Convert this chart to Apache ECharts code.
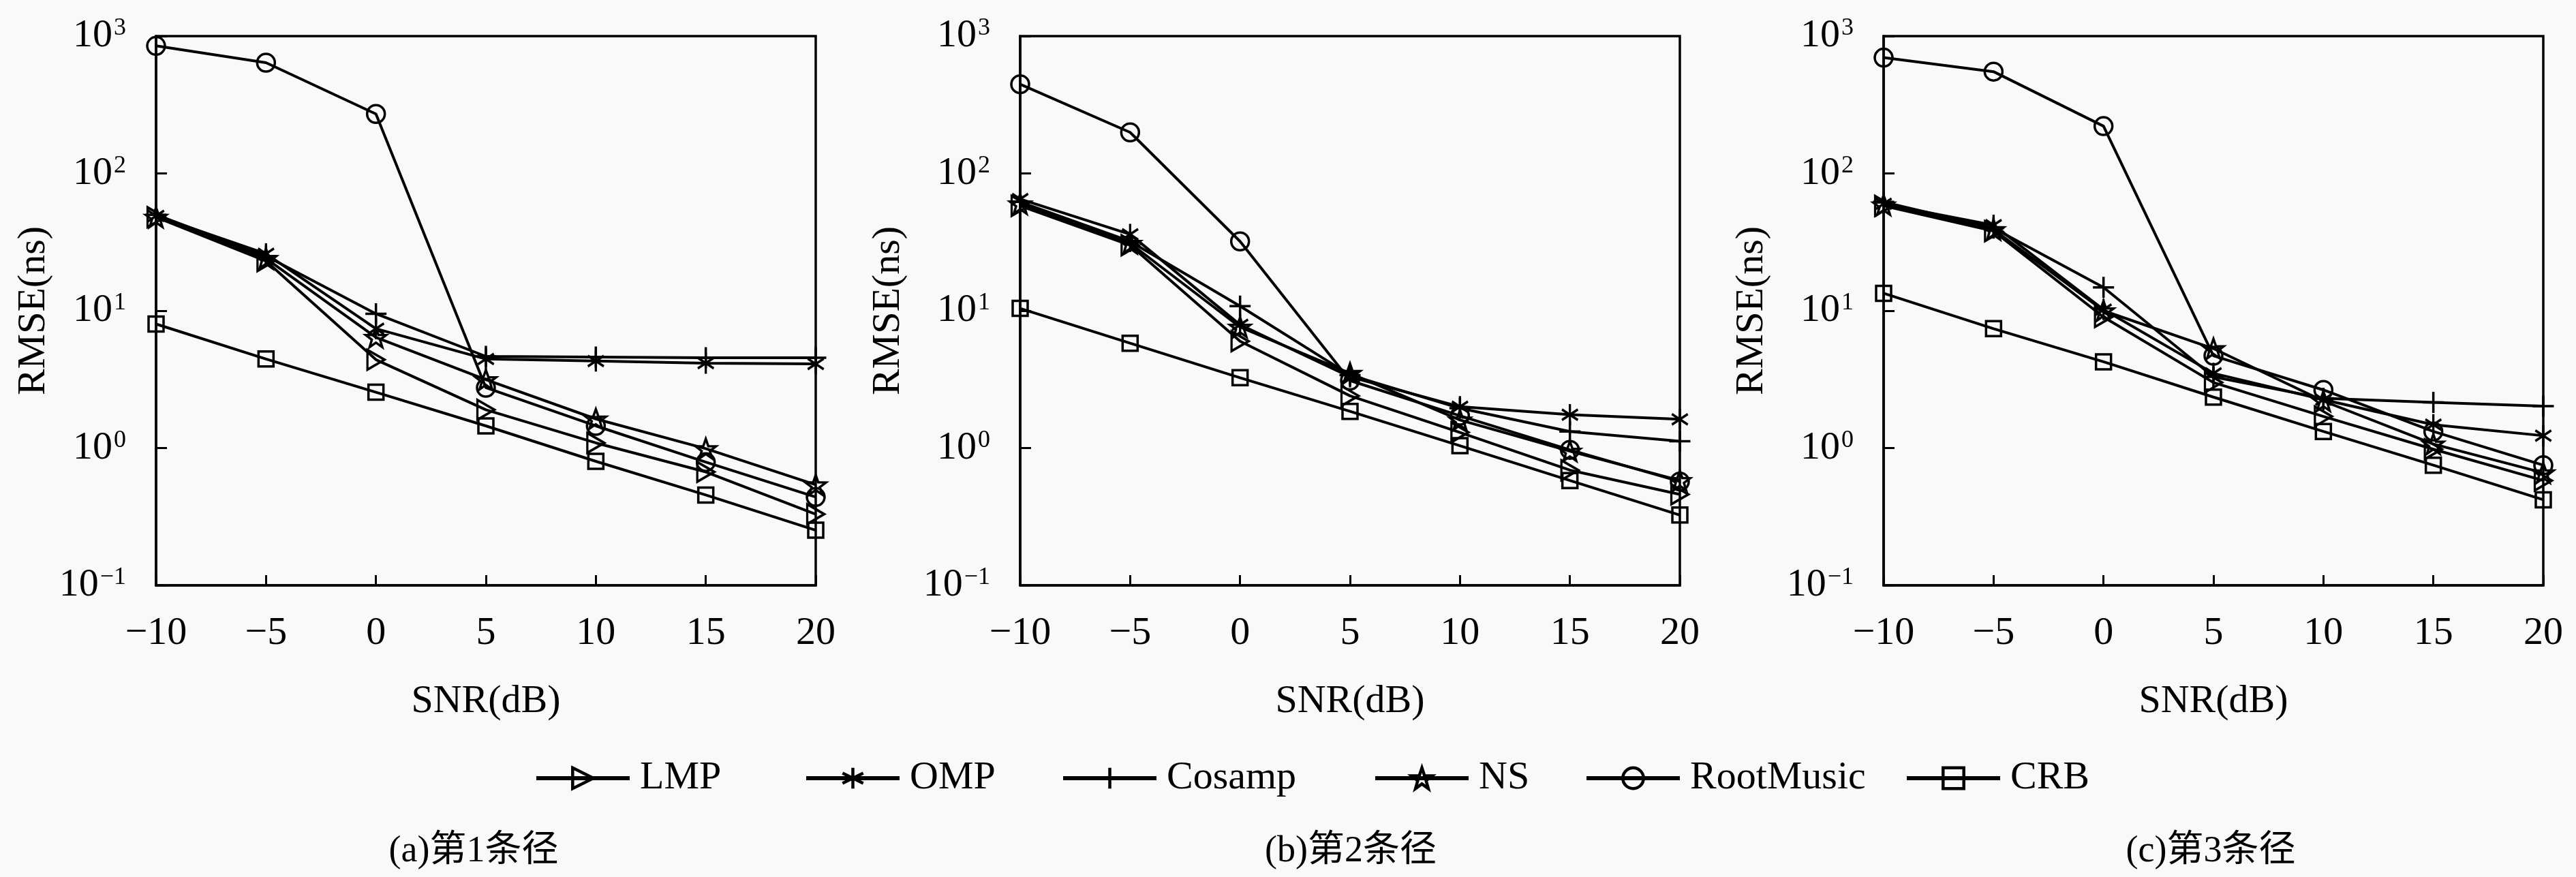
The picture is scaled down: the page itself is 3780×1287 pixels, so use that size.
<!DOCTYPE html>
<html><head><meta charset="utf-8">
<script src="https://cdn.jsdelivr.net/npm/echarts@6/dist/echarts.min.js"></script>
<style>html,body{margin:0;padding:0;background:#f9f9f9;}#c{width:3780px;height:1287px;}</style>
</head><body><div id="c"></div>
<script>
// ---------- data ----------
const snr = [-10, -5, 0, 5, 10, 15, 20];
const seriesNames = ['LMP', 'OMP', 'Cosamp', 'NS', 'RootMusic', 'CRB'];
const captions = ['(a)第1条径', '(b)第2条径', '(c)第3条径'];
const xTickLabels = ['−10', '−5', '0', '5', '10', '15', '20'];
const yTickExponents = [-1, 0, 1, 2, 3];

// panel (a)
const lmpA    = [48, 23, 4.4, 1.9, 1.09, 0.67, 0.33];
const ompA    = [49, 26, 7.4, 4.45, 4.3, 4.15, 4.1];
const cosampA = [50, 25, 9.5, 4.65, 4.6, 4.55, 4.55];
const nsA     = [48, 24, 6.4, 3.15, 1.63, 0.99, 0.54];
const rootA   = [849, 640, 271, 2.75, 1.45, 0.79, 0.44];
const crbA    = [8.0, 4.45, 2.55, 1.45, 0.80, 0.455, 0.252];
// panel (b)
const lmpB    = [58, 30, 6.0, 2.4, 1.3, 0.69, 0.46];
const ompB    = [65, 36, 7.9, 3.3, 2.0, 1.75, 1.62];
const cosampB = [62, 32, 10.8, 3.4, 1.95, 1.32, 1.12];
const nsB     = [60, 31, 7.6, 3.5, 1.6, 0.95, 0.58];
const rootB   = [446, 199, 32, 3.1, 1.72, 0.97, 0.57];
const crbB    = [10.4, 5.8, 3.25, 1.85, 1.04, 0.58, 0.325];
// panel (c)
const lmpC    = [58, 38, 9.0, 3.0, 1.7, 0.98, 0.58];
const ompC    = [60, 42, 10.2, 3.5, 2.25, 1.48, 1.23];
const cosampC = [62, 40, 14.8, 3.3, 2.3, 2.15, 2.02];
const nsC     = [59, 39, 10.0, 5.3, 2.2, 1.07, 0.66];
const rootC   = [697, 551, 221, 4.7, 2.65, 1.32, 0.75];
const crbC    = [13.4, 7.4, 4.25, 2.35, 1.32, 0.75, 0.42];

const panels = [
  [lmpA, ompA, cosampA, nsA, rootA, crbA],
  [lmpB, ompB, cosampB, nsB, rootB, crbB],
  [lmpC, ompC, cosampC, nsC, rootC, crbC]
];

// ---------- styles ----------
const FONT = "'Liberation Serif', 'Noto Sans CJK SC', serif";
const FS = 58;
const LW = 4;
const markerStyles = {
  LMP: { symbol: 'path://M0,0L10,5L0,10Z', size: [25, 29] },
  OMP: { symbol: 'path://M5,0L5,10M0.67,2.5L9.33,7.5M0.67,7.5L9.33,2.5', size: [27, 31] },
  Cosamp: { symbol: 'path://M5,0L5,10M0,5L10,5', size: [31, 31] },
  NS: { symbol: 'path://M5,0L6.176,3.382L9.755,3.455L6.902,5.618L7.939,9.045L5,7L2.061,9.045L3.098,5.618L0.245,3.455L3.824,3.382Z', size: [30, 30] },
  RootMusic: { symbol: 'circle', size: 26 },
  CRB: { symbol: 'rect', size: 22 }
};
const gridLefts = [229, 1497, 2764];
const gridWidth = 968;
const yNameGaps = [150, 164, 164];
const legendLefts = [779, 1175, 1552, 2010, 2320, 2790];
const captionX = [695, 1982, 3244];

const grids = [], xAxes = [], yAxes = [], series = [];
panels.forEach((pd, p) => {
  grids.push({ left: gridLefts[p], top: 53, width: gridWidth, height: 806, show: true,
    borderColor: '#000', borderWidth: 3.5, backgroundColor: 'transparent' });
  xAxes.push({
    type: 'value', gridIndex: p, min: -10, max: 20, interval: 5,
    name: 'SNR(dB)', nameLocation: 'middle', nameGap: 142,
    nameTextStyle: { fontFamily: FONT, fontSize: FS, color: '#000' },
    axisLine: { show: true, onZero: false, lineStyle: { color: '#000', width: 3.5 } },
    axisTick: { show: true, inside: true, length: 15, lineStyle: { color: '#000', width: 3 } },
    splitLine: { show: false },
    axisLabel: { margin: 42, fontFamily: FONT, fontSize: FS, color: '#000',
      formatter: v => xTickLabels[snr.indexOf(v)] }
  });
  yAxes.push({
    type: 'log', logBase: 10, gridIndex: p, min: 0.1, max: 1000,
    name: 'RMSE(ns)', nameLocation: 'middle', nameRotate: 90, nameGap: yNameGaps[p],
    nameTextStyle: { fontFamily: FONT, fontSize: FS, color: '#000' },
    axisLine: { show: true, onZero: false, lineStyle: { color: '#000', width: 3.5 } },
    axisTick: { show: true, inside: true, length: 16, lineStyle: { color: '#000', width: 3 } },
    splitLine: { show: false },
    minorTick: { show: false },
    axisLabel: {
      margin: 44, color: '#000',
      formatter: v => {
        const e = Math.round(Math.log10(v));
        if (yTickExponents.indexOf(e) < 0) return '';
        return '{b|10}{s|' + (e < 0 ? '−' + (-e) : e) + '}';
      },
      rich: {
        b: { fontFamily: FONT, fontSize: FS, color: '#000' },
        s: { fontFamily: FONT, fontSize: 36, color: '#000', verticalAlign: 'top', padding: [0, 0, 0, 2] }
      }
    }
  });
  seriesNames.forEach((name, i) => {
    const m = markerStyles[name];
    series.push({
      type: 'line', name, xAxisIndex: p, yAxisIndex: p,
      data: snr.map((x, k) => [x, pd[i][k]]),
      symbol: m.symbol, symbolSize: m.size, symbolKeepAspect: true, showAllSymbol: true,
      lineStyle: { color: '#000', width: LW },
      itemStyle: { color: 'transparent', borderColor: '#000', borderWidth: 3.5 },
      emphasis: { disabled: true },
      z: 3 + i
    });
  });
});

const legends = seriesNames.map((n, i) => ({
  data: [n], left: legendLefts[i], top: 1108, orient: 'horizontal',
  itemWidth: 137, itemHeight: 38, itemGap: 0, selectedMode: false,
  lineStyle: { color: '#000', width: 6 },
  itemStyle: { color: 'transparent', borderColor: '#000', borderWidth: 4.5 },
  textStyle: { fontFamily: FONT, fontSize: FS, color: '#000', padding: [0, 0, 0, 10] }
}));

const chart = echarts.init(document.getElementById('c'), null, { renderer: 'canvas' });
chart.setOption({
  backgroundColor: '#f9f9f9',
  animation: false,
  grid: grids, xAxis: xAxes, yAxis: yAxes, series,
  legend: legends,
  graphic: captions.map((t, i) => ({
    type: 'text', x: captionX[i], y: 1250,
    style: { text: t, fontFamily: FONT, fontSize: 54, fill: '#000',
      align: 'center', verticalAlign: 'middle', textAlign: 'center', textVerticalAlign: 'middle' }
  }))
});
</script></body></html>
